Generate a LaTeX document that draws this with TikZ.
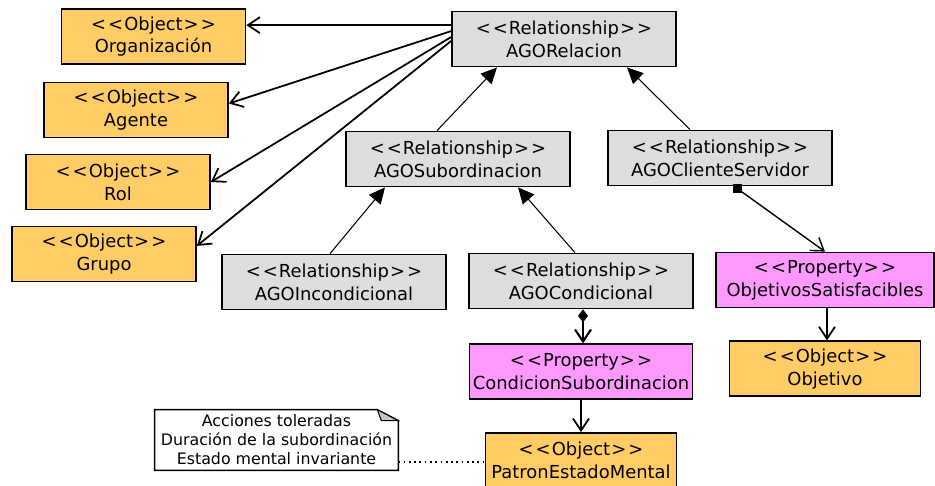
\documentclass[tikz,border=0pt]{standalone}
\usepackage{fontspec}
\setmainfont{DejaVu Sans}
\usetikzlibrary{positioning,calc,arrows.meta}

\definecolor{objcol}{HTML}{FFCC66}
\definecolor{relcol}{HTML}{DDDDDD}
\definecolor{propcol}{HTML}{FF99FF}

\newcommand{\stype}[1]{<\kern1.2pt<\kern0.6pt#1\kern0.6pt>\kern1.2pt>}

\tikzset{
  box/.style={draw, line width=1pt, minimum height=1.1cm, inner sep=0pt,
    align=center, font=\fontsize{10.2}{13}\selectfont},
  obj/.style={box, fill=objcol, minimum width=3.68cm},
  rel/.style={box, fill=relcol, minimum width=4.48cm},
  prop/.style={box, fill=propcol, minimum width=4.4cm},
  assoc/.style={-{Straight Barb[length=2.4mm,width=3.2mm]}, line width=1pt},
  gen/.style={-{Triangle[length=3.2mm,width=3mm]}, line width=0.6pt},
}

\begin{document}
\begin{tikzpicture}[x=0.02cm, y=-0.02cm]

      \useasboundingbox (0,0) rectangle (935,485);

      % Define nodes
	  \node[rel] (AGORelacion)        at (564,39)  {\stype{Relationship}\\AGORelacion};
	  \node[rel] (AGOSubordinacion)   at (458,159) {\stype{Relationship}\\AGOSubordinacion};
	  \node[rel] (AGOClienteServidor) at (720,158) {\stype{Relationship}\\AGOClienteServidor};
	  \node[rel] (AGOIncondicional)   at (334,282) {\stype{Relationship}\\AGOIncondicional};
	  \node[rel] (AGOCondicional)     at (581,281) {\stype{Relationship}\\AGOCondicional};
	  \node[prop, minimum width=4.46cm, below=0.68cm of AGOCondicional] (CondicionSubordinacion) {\stype{Property}\\CondicionSubordinacion};
	  \node[obj, minimum width=3.82cm, below=0.64cm of CondicionSubordinacion] (PatronEstadoMental) {\stype{Object}\\PatronEstadoMental};
	  \node[prop, minimum width=4.36cm] (ObjetivosSatisfacibles) at (825,280) {\stype{Property}\\ObjetivosSatisfacibles};
	  \node[obj, minimum width=3.82cm, below=0.64cm of ObjetivosSatisfacibles] (Objetivo) {\stype{Object}\\Objetivo};
	  \node[obj] (Organizacion) at (153.5,36.5) {\stype{Object}\\Organización};
	  \node[obj] (Agente)       at (136,110)    {\stype{Object}\\Agente};
	  \node[obj] (Rol)          at (118,182)    {\stype{Object}\\Rol};
	  \node[obj] (Grupo)        at (104,254)    {\stype{Object}\\Grupo};
	  \node[minimum width=4.86cm, minimum height=1.2cm, inner sep=0pt, align=center,
	    font=\fontsize{9}{10.8}\selectfont] (nota) at (276.5,440)
	    {Acciones toleradas\\Duración de la subordinación\\Estado mental invariante};
	  \node[fill, minimum size=1.8mm, inner sep=0pt] (cuadro) at ($(AGOClienteServidor.south)+(17,2)$) {};
	  \coordinate (notaenlace) at ($(nota.south east)+(0,-8)$);

	  % Note outline
	  \draw[line width=0.8pt] (nota.north west) -- ($(nota.north east)+(-21,0)$)
	    -- ($(nota.north east)+(0,11)$) -- (nota.south east) -- (nota.south west) -- cycle;
	  \draw[line width=0.6pt, fill=gray!45] ($(nota.north east)+(-21,0)$)
	    -- ($(nota.north east)+(-17,11)$) -- ($(nota.north east)+(0,11)$) -- cycle;

	  % Connect the nodes
	  \draw[assoc] (AGORelacion.173) -- (AGORelacion.173 -| Organizacion.east);
	  \draw[assoc] (AGORelacion.176) -- (Agente.4);
	  \draw[assoc] (AGORelacion.179) -- (Rol.east);
	  \draw[assoc] (AGORelacion.181) -- (Grupo.5);
	  \draw[gen] ($(AGOSubordinacion.north)+(-21,0)$) -- ($(AGORelacion.south)+(-67,0)$);
	  \draw[gen] ($(AGOClienteServidor.north)+(-30,0)$) -- ($(AGORelacion.south)+(63,0)$);
	  \draw[gen] ($(AGOIncondicional.north)+(-4,0)$) -- ($(AGOSubordinacion.south)+(-73,0)$);
	  \draw[gen] ($(AGOCondicional.north)+(-6,0)$) -- ($(AGOSubordinacion.south)+(60,0)$);
	  \draw[-{Straight Barb[length=2.4mm,width=3.2mm]}, line width=0.8pt]
	    (cuadro.center) -- (ObjetivosSatisfacibles.north);
	  \draw[{Diamond[length=2.6mm,width=2mm]}-{Straight Barb[length=2.4mm,width=3.2mm]}, line width=1.2pt]
	    ($(AGOCondicional.south)+(2,0)$) -- ($(CondicionSubordinacion.north)+(2,0)$);
	  \draw[assoc] ($(ObjetivosSatisfacibles.south)+(2,0)$) -- ($(Objetivo.north)+(2,0)$);
	  \draw[assoc] (CondicionSubordinacion) -- (PatronEstadoMental);
	  \draw[dotted, line width=1pt] (notaenlace) -- (notaenlace -| PatronEstadoMental.west);

	\end{tikzpicture}
\end{document}
